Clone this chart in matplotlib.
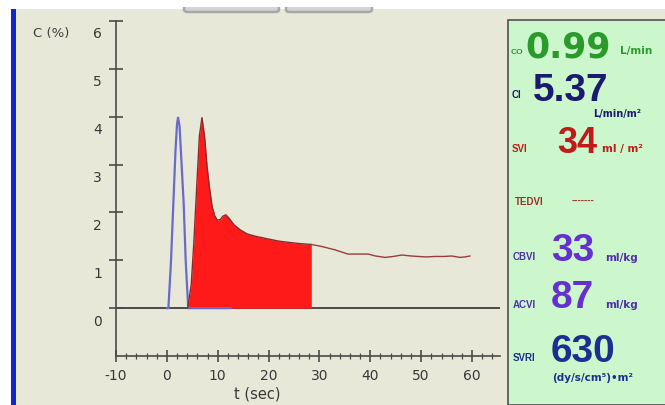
import matplotlib
matplotlib.use("Agg")
import matplotlib.pyplot as plt
from matplotlib.patches import Rectangle, FancyBboxPatch
from matplotlib.ticker import MultipleLocator
from matplotlib.transforms import ScaledTranslation

plt.rcParams["font.family"] = ["DejaVu Sans"]
plt.rcParams["axes.unicode_minus"] = False

W, H = 665, 406

# first-pass (blue) indicator curve
t_blue = [0.0, 0.3, 0.8, 1.3, 1.7, 2.0, 2.2, 2.5, 2.9, 3.3, 3.7, 4.2, 8.0, 12.5]
c_blue = [0.0, 0.0, 0.95, 2.25, 3.3, 3.85, 3.98, 3.8, 3.0, 2.2, 1.0, 0.0, 0.0, 0.0]

# dilution curve, filled part (integration window)
t_red = [4.1, 4.8, 5.3, 5.9, 6.4, 6.9, 7.4, 7.9, 8.4, 8.9, 9.4, 9.9, 10.5, 11.0,
         11.6, 12.3, 13.2, 14.5, 15.8, 17.5, 19.7, 22.0, 24.3, 26.0, 28.4]
c_red = [0.0, 0.5, 1.36, 2.6, 3.6, 3.98, 3.6, 2.96, 2.5, 2.12, 1.93, 1.84, 1.85, 1.92,
         1.95, 1.87, 1.74, 1.63, 1.55, 1.5, 1.45, 1.4, 1.37, 1.35, 1.33]

# dilution curve, tail after the window
t_tail = [28.4, 30.4, 33.0, 35.6, 37.5, 39.6, 41.0, 42.9, 44.5, 46.2, 48.0, 49.4,
          51.0, 52.7, 54.5, 56.0, 57.6, 58.6, 59.6]
c_tail = [1.33, 1.29, 1.22, 1.13, 1.13, 1.13, 1.09, 1.06, 1.08, 1.11, 1.09, 1.08,
          1.07, 1.08, 1.08, 1.09, 1.06, 1.07, 1.09]

# right-hand result panel
labels = ["CO", "CI", "SVI", "TEDVI", "CBVI", "ACVI", "SVRI"]
values = ["0.99", "5.37", "34", "-------", "33", "87", "630"]
units = ["L/min", "L/min/m²", "ml / m²", "", "ml/kg", "ml/kg", "(dy/s/cm⁵)•m²"]

BEIGE = "#E8E8D8"

fig = plt.figure(figsize=(W / 100, H / 100), dpi=100, facecolor=BEIGE)


def fx(x):
    return x / W


def fy(y):
    return 1 - y / H


# window chrome
fig.patches.append(Rectangle((0, fy(10)), 1, 10 / H, transform=fig.transFigure,
                             facecolor="white", edgecolor="none", zorder=0))
fig.patches.append(Rectangle((0, 0), fx(11), 1, transform=fig.transFigure,
                             facecolor="white", edgecolor="none", zorder=0))
fig.patches.append(Rectangle((fx(11), 0), fx(5), fy(10), transform=fig.transFigure,
                             facecolor="#1428C8", edgecolor="none", zorder=1))
for x0, x1 in [(184, 279), (286, 372)]:
    fig.patches.append(FancyBboxPatch((fx(x0), fy(13)), fx(x1 - x0), 7 / H,
                                      boxstyle="round,pad=0,rounding_size=0.006",
                                      transform=fig.transFigure, facecolor="#D4D4D4",
                                      edgecolor="#A8A8A8", lw=1.8, zorder=1))
fig.patches.append(Rectangle((0, fy(8)), 1, 8 / H, transform=fig.transFigure,
                             facecolor="white", edgecolor="none", zorder=2))

ax = fig.add_axes([fx(116), fy(357), fx(500 - 116), (357 - 22) / H])
ax.set_facecolor("none")
ax.set_xlim(-10, 65.5)
ax.set_ylim(-1, 6)

ax.axhline(0, color="#303030", lw=1.2, zorder=1)
ax.plot(t_blue, c_blue, color="#6A6AC8", lw=1.6, zorder=3)
ax.fill_between(t_red, c_red, 0, color="#FF1A1A", lw=0, zorder=2)
ax.plot(t_red, c_red, color="#8B2A2A", lw=1.0, zorder=3)
ax.plot(t_tail, c_tail, color="#9A3C3C", lw=1.0, zorder=3)

for s in ["top", "right"]:
    ax.spines[s].set_visible(False)
for s in ["left", "bottom"]:
    ax.spines[s].set_color("#4A4A4A")
    ax.spines[s].set_linewidth(1.2)

ax.set_yticks(range(0, 7))
ax.xaxis.set_major_locator(MultipleLocator(10))
ax.xaxis.set_minor_locator(MultipleLocator(2))
ax.tick_params(axis="y", direction="inout", length=10, width=1.2, color="#4A4A4A",
               labelsize=10, labelcolor="#383838", pad=5)
ax.tick_params(axis="x", which="major", direction="inout", length=9, width=1.2,
               color="#4A4A4A", labelsize=10, labelcolor="#383838", pad=4)
ax.tick_params(axis="x", which="minor", direction="inout", length=4, width=0.9,
               color="#4A4A4A")
ax.set_xticks([-10, 0, 10, 20, 30, 40, 50, 60])
ax.set_xticklabels(["-10", "0", "10", "20", "30", "40", "50", "60"])
for lab in ax.get_yticklabels():
    lab.set_transform(lab.get_transform() + ScaledTranslation(0, -0.11, fig.dpi_scale_trans))

fig.text(fx(51), fy(33), "C (%)", ha="center", va="center", fontsize=9.5, color="#404040")
fig.text(fx(257), fy(394), "t (sec)", ha="center", va="center", fontsize=10.5, color="#383838")

# result panel
fig.patches.append(Rectangle((fx(508), 0), fx(170), fy(21), transform=fig.transFigure,
                             facecolor="#CCF7CC", edgecolor="#505050", lw=1.2, zorder=1))

GREEN = "#2A9A2A"
NAVY = "#1A1A70"
RED = "#C01A1A"
BROWN = "#A0302A"
PURPLE = "#6630D0"
LILAC = "#5030A8"
BLUE = "#1A3090"

lab_kw = dict(fontsize=7, fontweight="bold", va="baseline", family="Liberation Sans")
unit_kw = dict(fontsize=7.5, fontweight="bold", va="baseline", family="DejaVu Sans")
big_kw = dict(fontweight="bold", va="baseline", family="Liberation Sans")

fig.text(fx(511), fy(54), labels[0], color=GREEN, fontsize=6, fontweight="bold",
         va="baseline", family="Liberation Sans")
fig.text(fx(525), fy(57), values[0], color=GREEN, fontsize=25, fontweight="bold",
         va="baseline", family="DejaVu Sans")
fig.text(fx(620), fy(54), units[0], color=GREEN, **unit_kw)

fig.text(fx(512), fy(98), labels[1], color=NAVY, **lab_kw)
fig.text(fx(533), fy(101), values[1], color=NAVY, fontsize=28, **big_kw)
fig.text(fx(593), fy(117), units[1], color=NAVY, fontsize=7, fontweight="bold",
         va="baseline", family="DejaVu Sans")

fig.text(fx(512), fy(152), labels[2], color=RED, **lab_kw)
fig.text(fx(557), fy(153), values[2], color=RED, fontsize=26, **big_kw)
fig.text(fx(602), fy(152), units[2], color=RED, **unit_kw)

fig.text(fx(515), fy(205), labels[3], color=BROWN, **lab_kw)
fig.text(fx(572), fy(204), values[3], color=BROWN, **lab_kw)

fig.text(fx(513), fy(260), labels[4], color=LILAC, **lab_kw)
fig.text(fx(551), fy(261), values[4], color=PURPLE, fontsize=28, **big_kw)
fig.text(fx(605), fy(261), units[4], color=LILAC, **unit_kw)

fig.text(fx(513), fy(308), labels[5], color=LILAC, **lab_kw)
fig.text(fx(551), fy(308), values[5], color=PURPLE, fontsize=28, **big_kw)
fig.text(fx(605), fy(308), units[5], color=LILAC, **unit_kw)

fig.text(fx(513), fy(361), labels[6], color=BLUE, **lab_kw)
fig.text(fx(551), fy(362), values[6], color=BLUE, fontsize=28, **big_kw)
fig.text(fx(552), fy(381), units[6], color=BLUE, **unit_kw)

fig.savefig("out.png", dpi=100, facecolor=BEIGE)
